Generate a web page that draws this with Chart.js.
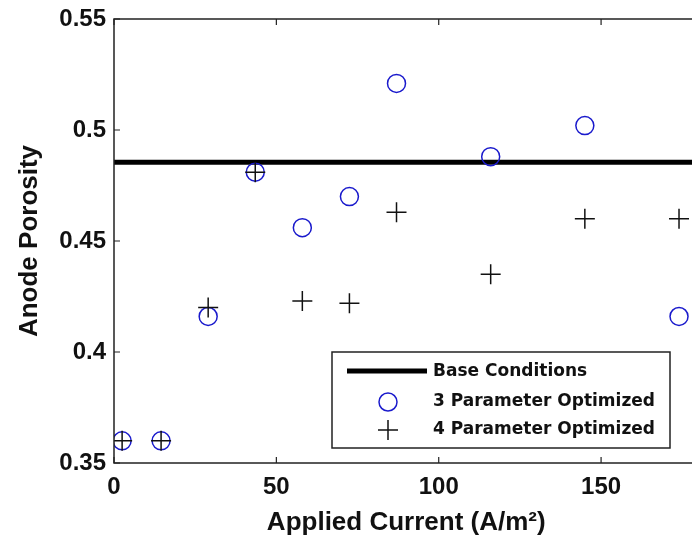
<!DOCTYPE html>
<html>
<head>
<meta charset="utf-8">
<script src="https://cdn.jsdelivr.net/npm/chart.js@4.4.1/dist/chart.umd.min.js"></script>
<style>
  html,body{margin:0;padding:0;background:#fff;overflow:hidden}
  #wrap{width:692px;height:546px;overflow:hidden;position:relative}
  canvas{display:block}
</style>
</head>
<body>
<div id="wrap"><canvas id="c" width="710" height="546"></canvas></div>
<script>
// ── data ─────────────────────────────────────────────────
const currents=[2.5,14.5,29,43.5,58,72.5,87,116,145,174];
const porosity3=[0.360,0.360,0.416,0.481,0.456,0.470,0.521,0.488,0.502,0.416];
const porosity4=[0.360,0.360,0.420,0.481,0.423,0.422,0.463,0.435,0.460,0.460];
const baseCurrent=[0,180];
const basePorosity=[0.4855,0.4855];
const xTicks=[0,50,100,150];
const yTicks=[0.35,0.4,0.45,0.5,0.55];
const legendLabels=['Base Conditions','3 Parameter Optimized','4 Parameter Optimized'];

const BLUE='#1a1acc', INK='#111';
const pts=(xs,ys)=>xs.map((x,i)=>({x,y:ys[i]}));

// box + inward ticks like the matlab figure
const boxPlugin={
  id:'box',
  afterDraw(chart){
    const {ctx,chartArea:a,scales:{x,y}}=chart;
    ctx.save();
    ctx.strokeStyle='#222';ctx.lineWidth=1.5;
    ctx.strokeRect(a.left,a.top,a.right-a.left,a.bottom-a.top);
    ctx.lineWidth=1.2;
    ctx.beginPath();
    xTicks.forEach(v=>{const px=x.getPixelForValue(v);
      ctx.moveTo(px,a.bottom);ctx.lineTo(px,a.bottom-6);
      ctx.moveTo(px,a.top);ctx.lineTo(px,a.top+6);});
    yTicks.forEach(v=>{const py=y.getPixelForValue(v);
      ctx.moveTo(a.left,py);ctx.lineTo(a.left+6,py);
      ctx.moveTo(a.right,py);ctx.lineTo(a.right-6,py);});
    ctx.stroke();
    ctx.restore();
  }
};

// legend box drawn by hand
const legendPlugin={
  id:'legendBox',
  afterDraw(chart){
    const ctx=chart.ctx;
    const L=332,T=352,R=670,B=448;
    ctx.save();
    ctx.fillStyle='#fff';ctx.fillRect(L,T,R-L,B-T);
    ctx.strokeStyle='#222';ctx.lineWidth=1.5;ctx.strokeRect(L,T,R-L,B-T);
    ctx.strokeStyle='#000';ctx.lineWidth=5;
    ctx.beginPath();ctx.moveTo(347,371);ctx.lineTo(427,371);ctx.stroke();
    ctx.strokeStyle=BLUE;ctx.lineWidth=1.5;
    ctx.beginPath();ctx.arc(388,402,9,0,Math.PI*2);ctx.stroke();
    ctx.strokeStyle=INK;ctx.lineWidth=1.5;
    ctx.beginPath();ctx.moveTo(378,430);ctx.lineTo(398,430);ctx.moveTo(388,420);ctx.lineTo(388,440);ctx.stroke();
    ctx.fillStyle=INK;ctx.font='bold 17px "DejaVu Sans"';ctx.textBaseline='middle';ctx.textAlign='left';
    [372,402,430].forEach((yy,i)=>ctx.fillText(legendLabels[i],433,yy));
    ctx.restore();
  }
};

new Chart(document.getElementById('c'),{
  type:'scatter',
  data:{datasets:[
    {label:legendLabels[2],data:pts(currents,porosity4),pointStyle:'cross',pointRadius:10,pointBorderWidth:1.5,borderColor:INK,backgroundColor:INK,order:0},
    {label:legendLabels[1],data:pts(currents,porosity3),pointStyle:'circle',pointRadius:9,pointBorderWidth:1.5,borderColor:BLUE,backgroundColor:'rgba(0,0,0,0)',order:1},
    {label:legendLabels[0],type:'line',data:pts(baseCurrent,basePorosity),borderColor:'#000',borderWidth:5,pointRadius:0,fill:false,order:2},
  ]},
  options:{
    responsive:false,animation:false,devicePixelRatio:1,
    layout:{padding:{top:19,right:2,left:0,bottom:0}},
    plugins:{legend:{display:false},tooltip:{enabled:false}},
    scales:{
      x:{type:'linear',min:0,max:180,
        afterFit:s=>{s.height=83;},
        afterBuildTicks:s=>{s.ticks=xTicks.map(v=>({value:v}));},
        grid:{display:false,drawTicks:false},border:{display:false},
        ticks:{color:INK,padding:10,font:{family:'"Liberation Sans"',size:24,weight:'bold'},maxRotation:0},
        title:{display:true,text:'Applied Current (A/m²)',color:INK,padding:{bottom:8},font:{family:'"Liberation Sans"',size:26,weight:'bold'}}},
      y:{type:'linear',min:0.35,max:0.55,
        afterFit:s=>{s.width=114;s.paddingTop=0;s.paddingBottom=0;},
        afterBuildTicks:s=>{s.ticks=yTicks.map(v=>({value:v}));},
        grid:{display:false,drawTicks:false},border:{display:false},
        ticks:{color:INK,padding:8,font:{family:'"Liberation Sans"',size:24,weight:'bold'},callback:v=>String(+v.toFixed(2))},
        title:{display:true,text:'Anode Porosity',color:INK,padding:{top:14},font:{family:'"Liberation Sans"',size:26,weight:'bold'}}}
    }
  },
  plugins:[boxPlugin,legendPlugin]
});
</script>
</body>
</html>
